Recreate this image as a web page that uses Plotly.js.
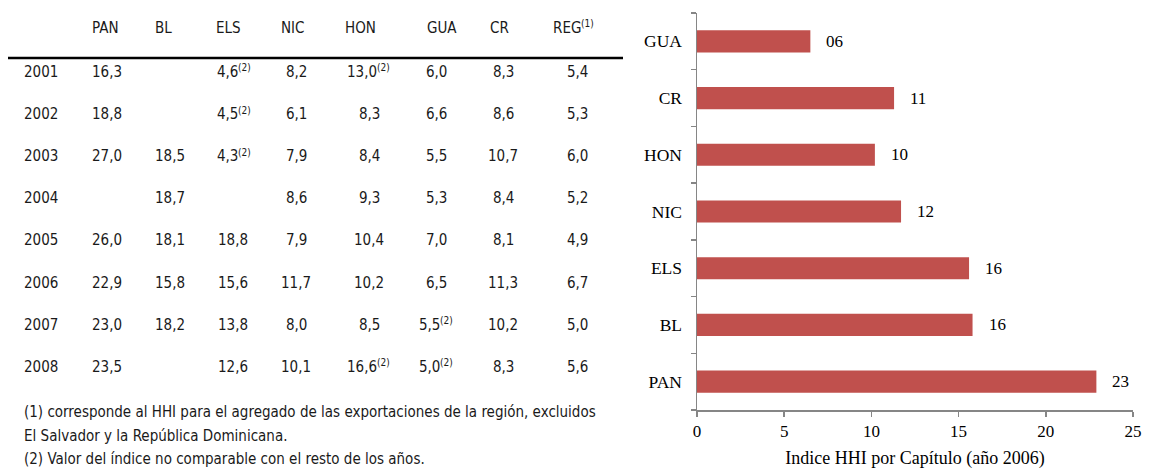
<!DOCTYPE html>
<html>
<head>
<meta charset="utf-8">
<script src="https://cdn.plot.ly/plotly-3.0.1.min.js"></script>
<style>html,body{margin:0;padding:0;background:#fff;}#chart{width:1151px;height:469px;}</style>
</head>
<body>
<div id="chart"></div>
<script>
// ---- Table data (HHI by year) ----
const years = [2001, 2002, 2003, 2004, 2005, 2006, 2007, 2008];
const headers = ["PAN", "BL", "ELS", "NIC", "HON", "GUA", "CR", "REG"];
const PAN = [16.3, 18.8, 27.0, null, 26.0, 22.9, 23.0, 23.5];
const BL  = [null, null, 18.5, 18.7, 18.1, 15.8, 18.2, null];
const ELS = [4.6, 4.5, 4.3, null, 18.8, 15.6, 13.8, 12.6];
const NIC = [8.2, 6.1, 7.9, 8.6, 7.9, 11.7, 8.0, 10.1];
const HON = [13.0, 8.3, 8.4, 9.3, 10.4, 10.2, 8.5, 16.6];
const GUA = [6.0, 6.6, 5.5, 5.3, 7.0, 6.5, 5.5, 5.0];
const CR  = [8.3, 8.6, 10.7, 8.4, 8.1, 11.3, 10.2, 8.3];
const REG = [5.4, 5.3, 6.0, 5.2, 4.9, 6.7, 5.0, 5.6];
// cells flagged with note (2): [column, year]
const note2 = [["ELS", 2001], ["ELS", 2002], ["ELS", 2003], ["HON", 2001], ["HON", 2008], ["GUA", 2007], ["GUA", 2008]];
const footnotes = [
  "(1) corresponde al HHI para el agregado de las exportaciones de la región, excluidos",
  "El Salvador y la República Dominicana.",
  "(2) Valor del índice no comparable con el resto de los años."
];

// ---- Bar chart data (2006) ----
const barCats = ["PAN", "BL", "ELS", "NIC", "HON", "CR", "GUA"];
const barVals = [22.9, 15.8, 15.6, 11.7, 10.2, 11.3, 6.5];
const barLabels = ["23", "16", "16", "12", "10", "11", "06"];
const xTicks = [0, 5, 10, 15, 20, 25];

// ---- Layout helpers ----
const W = 1151, H = 469;
const px = x => x / W;
const py = y => 1 - y / H;
const tableFamily = "'Liberation Sans Narrow', 'Arial Narrow', 'DejaVu Sans Condensed', sans-serif";
const tableFont = {family: tableFamily, size: 15, color: "#1a1a1a"};
const supFont = {family: tableFamily, size: 10, color: "#1a1a1a"};
const serif = "'Liberation Serif', 'Times New Roman', serif";

const cols = {PAN: PAN, BL: BL, ELS: ELS, NIC: NIC, HON: HON, GUA: GUA, CR: CR, REG: REG};
const headerX = [105, 163, 228, 293, 360, 442, 499, 565];
const colX = [107, 170, 233, 296, 369, 436, 503, 577];
const supEdge = {ELS: 238, HON: 377, GUA: 440};
const regSupEdge = 581;
const yearX = 41;
const headerY = 28;
const rowY0 = 72, rowStep = 42.1;

const annotations = [];
function txt(x, y, text, anchor, font, yshift) {
  annotations.push({xref: "paper", yref: "paper", x: px(x), y: py(y), xanchor: anchor, yanchor: "middle",
    text: text, showarrow: false, font: font, yshift: yshift || 0, borderpad: 0, borderwidth: 0});
}
headers.forEach((h, i) => {
  if (h === "REG") {
    txt(regSupEdge, headerY, h, "right", tableFont);
    txt(regSupEdge, headerY, "(1)", "left", supFont, 4);
  } else {
    txt(headerX[i], headerY, h, "center", tableFont);
  }
});
years.forEach((yr, r) => {
  const y = rowY0 + r * rowStep;
  txt(yearX, y, String(yr), "center", tableFont);
  headers.forEach((h, c) => {
    const v = cols[h][r];
    if (v === null) return;
    const t = v.toFixed(1).replace(".", ",");
    if (note2.some(n => n[0] === h && n[1] === yr)) {
      txt(supEdge[h], y, t, "right", tableFont);
      txt(supEdge[h], y, "(2)", "left", supFont, 4);
    } else {
      txt(colX[c], y, t, "center", tableFont);
    }
  });
});
const footY = [412, 436, 459];
footnotes.forEach((f, i) => txt(24, footY[i], f, "left", tableFont));
// bar value labels
barCats.forEach((c, i) => {
  annotations.push({xref: "x", yref: "y", x: barVals[i], y: c, xanchor: "left", yanchor: "middle", xshift: 14,
    text: barLabels[i], showarrow: false, font: {family: serif, size: 17, color: "#000"}});
});

const trace = {
  type: "bar", orientation: "h", x: barVals, y: barCats,
  marker: {color: "#C0504D"}, hoverinfo: "none"
};

const layout = {
  width: W, height: H,
  margin: {l: 0, r: 0, t: 0, b: 0},
  paper_bgcolor: "#fff", plot_bgcolor: "#fff",
  showlegend: false,
  bargap: 0.61,
  xaxis: {
    domain: [px(697), px(1133)], range: [0, 25], tickvals: xTicks,
    showgrid: false, zeroline: false, showline: true, linecolor: "#868686", linewidth: 1.5,
    ticks: "outside", ticklen: 5, tickcolor: "#868686", tickwidth: 1.5,
    tickfont: {family: serif, size: 17, color: "#000"},
    title: {text: "Indice HHI por Capítulo (año 2006)", font: {family: serif, size: 18, color: "#000"}, standoff: 13},
    automargin: false, fixedrange: true
  },
  yaxis: {
    domain: [1 - 410 / H, 1 - 13 / H], type: "category", categoryorder: "array", categoryarray: barCats,
    showgrid: false, zeroline: false, showline: true, linecolor: "#868686", linewidth: 1.5,
    ticks: "outside", ticklen: 5, tickcolor: "#868686", tickwidth: 1.5, tickson: "boundaries",
    tickfont: {family: serif, size: 17.5, color: "#000"}, ticklabelstandoff: 10,
    automargin: false, fixedrange: true
  },
  shapes: [
    {type: "line", xref: "paper", yref: "paper", x0: px(8), x1: px(623), y0: py(58), y1: py(58), line: {color: "#000", width: 2.5}}
  ],
  annotations: annotations
};

Plotly.newPlot("chart", [trace], layout, {staticPlot: true, displayModeBar: false});
</script>
</body>
</html>
